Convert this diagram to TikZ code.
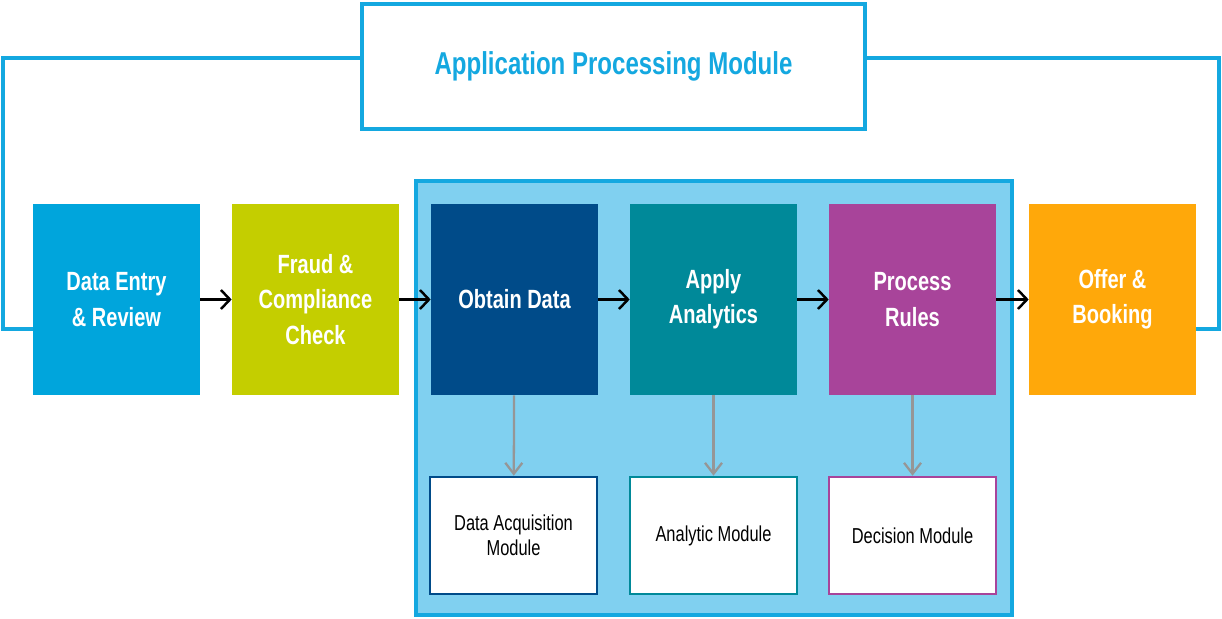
\documentclass[tikz,border=0pt]{standalone}
\usepackage{fontspec}
\usetikzlibrary{arrows.meta}
\newfontfamily\narrowfont[FakeStretch=0.76]{Liberation Sans}
\definecolor{skyline}{RGB}{20,168,224}
\definecolor{panelblue}{RGB}{128,208,240}
\definecolor{entryblue}{RGB}{0,165,220}
\definecolor{fraudgreen}{RGB}{196,206,0}
\definecolor{obtainblue}{RGB}{0,75,137}
\definecolor{applyteal}{RGB}{0,137,153}
\definecolor{rulespurple}{RGB}{168,68,154}
\definecolor{offerorange}{RGB}{255,168,10}
\definecolor{arrgray}{RGB}{150,150,150}

\tikzset{
  stage/.style={minimum width=3.34cm, minimum height=3.82cm, inner sep=0pt,
    text=white, align=center, font=\narrowfont\bfseries\fontsize{15}{20}\selectfont},
  module/.style={draw, line width=1.5pt, fill=white, minimum width=3.34cm,
    minimum height=2.34cm, inner sep=0pt, align=center,
    font=\narrowfont\fontsize{12.3}{14.2}\selectfont},
  flow/.style={-{Straight Barb[length=0.18cm,width=0.38cm]}, line width=1.4pt},
  godown/.style={-{Straight Barb[length=0.22cm,width=0.34cm]}, line width=1.3pt, draw=arrgray},
  feed/.style={line width=2pt, draw=skyline}
}

\begin{document}
\begin{tikzpicture}[x=0.02cm,y=-0.02cm]
  \useasboundingbox (0,0) rectangle (1222,618);
  \node[fill=panelblue, draw=skyline, line width=2pt, minimum width=11.92cm,
    minimum height=8.68cm, inner sep=0pt] (panel) at (714,398) {};
  \node[draw=skyline, line width=2pt, fill=white, minimum width=10.06cm,
    minimum height=2.5cm, inner sep=0pt, text=skyline,
    font=\narrowfont\bfseries\fontsize{18}{21}\selectfont] (title) at (613.5,66.5)
    {\raisebox{-2pt}{Application Processing Module}};

  \node[stage, fill=entryblue] (entry) at (116.5,299.5) {Data Entry\\\& Review};
  \node[stage, fill=fraudgreen] (fraud) at (315.5,299.5) {Fraud \&\\Compliance\\Check};
  \node[stage, fill=obtainblue] (obtain) at (514.5,299.5) {Obtain Data};
  \node[stage, fill=applyteal] (apply) at (713.5,299.5) {Apply\\Analytics};
  \node[stage, fill=rulespurple] (rules) at (912.5,299.5) {Process\\Rules};
  \node[stage, fill=offerorange] (offer) at (1112.5,299.5) {Offer \&\\Booking};

  \node[module, draw=obtainblue] (acq) at (513.5,535.5) {Data Acquisition\\Module};
  \node[module, draw=applyteal] (analytic) at (713.5,535.5) {Analytic Module};
  \node[module, draw=rulespurple] (decision) at (912.5,535.5) {Decision Module};

  \coordinate (fbL) at (3,329);
  \coordinate (fbR) at (1219,329);
  \draw[feed] ([yshift=0.17cm]title.west) -| (fbL) -- (fbL -| entry.west);
  \draw[feed] ([yshift=0.17cm]title.east) -| (fbR) -- (fbR -| offer.east);

  \draw[flow] (entry) -- (fraud);
  \draw[flow] (fraud) -- (obtain);
  \draw[flow] (obtain) -- (apply);
  \draw[flow] (apply) -- (rules);
  \draw[flow] (rules) -- (offer);

  \draw[godown] (obtain) -- (acq);
  \draw[godown] (apply) -- (analytic);
  \draw[godown] (rules) -- (decision);
\end{tikzpicture}
\end{document}
